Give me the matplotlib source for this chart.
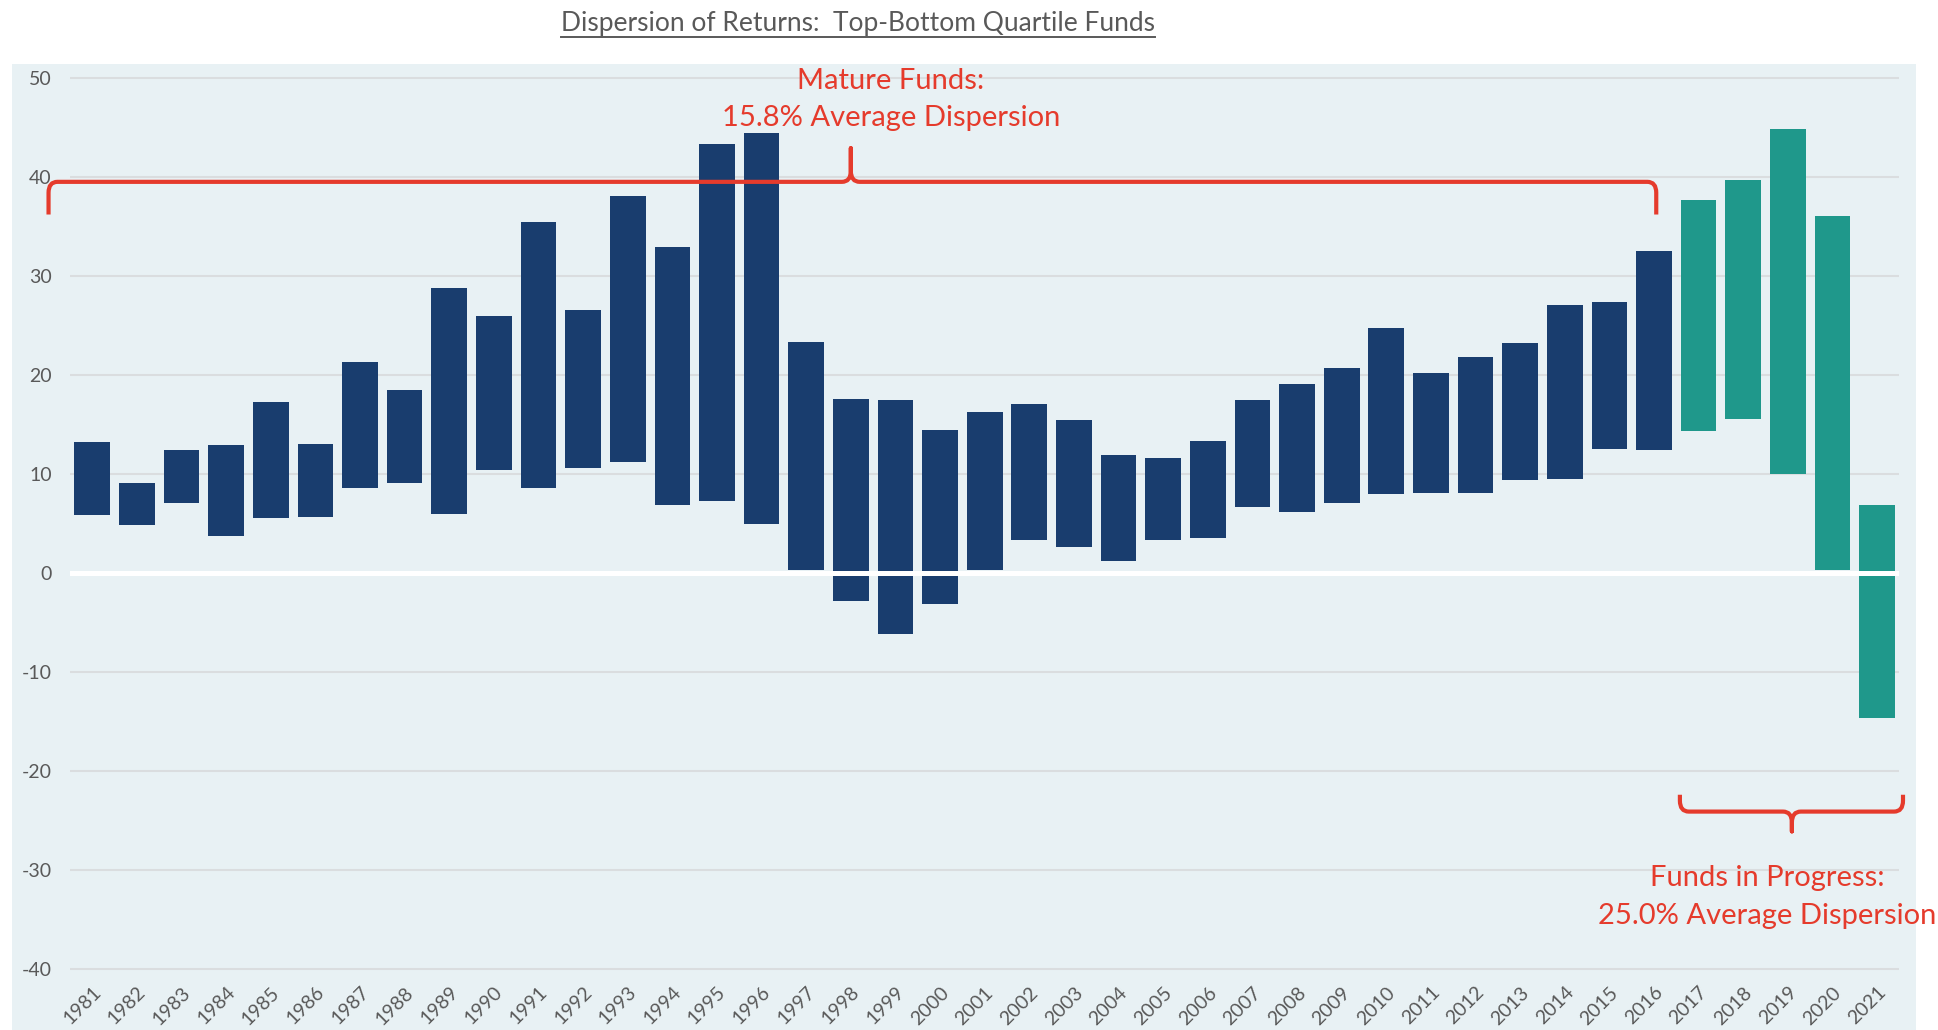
import numpy as np
import matplotlib.pyplot as plt
from matplotlib.path import Path
from matplotlib.patches import PathPatch, Rectangle
from matplotlib.lines import Line2D

plt.rcParams['font.family'] = ['Lato', 'DejaVu Sans']

# top / bottom quartile returns by vintage year
years = list(range(1981, 2022))
top_q = [13.2, 9.1, 12.4, 12.9, 17.3, 13.0, 21.3, 18.5, 28.8, 26.0,
         35.4, 26.6, 38.1, 32.9, 43.3, 44.4, 23.3, 17.6, 17.5, 14.4,
         16.3, 17.1, 15.4, 11.9, 11.6, 13.3, 17.5, 19.1, 20.7, 24.7,
         20.2, 21.8, 23.2, 27.1, 27.4, 32.5, 37.7, 39.7, 44.8, 36.0,
         6.9]
bottom_q = [5.9, 4.8, 7.1, 3.7, 5.5, 5.7, 8.6, 9.1, 6.0, 10.4,
            8.6, 10.6, 11.2, 6.9, 7.3, 4.9, 0.3, -2.8, -6.2, -3.1,
            0.3, 3.3, 2.6, 1.2, 3.3, 3.5, 6.7, 6.2, 7.1, 8.0,
            8.1, 8.1, 9.4, 9.5, 12.5, 12.4, 14.3, 15.5, 10.0, 0.3,
            -14.6]
first_in_progress = 2017
yticks = list(range(-40, 60, 10))

navy = '#193D6E'
teal = '#1F988B'
red = '#E53B2C'
grey = '#595959'
bg = '#E8F1F4'

fig = plt.figure(figsize=(19.38, 10.30), dpi=100)
fig.patches.append(Rectangle((0.0064, 0), 0.9822, 0.9379, transform=fig.transFigure,
                             facecolor=bg, edgecolor='none', zorder=-5))

ax = fig.add_axes([0.0361, 0.0544, 0.944, 0.8748])
ax.set_facecolor('none')

x = np.arange(len(years))
colors = [teal if y >= first_in_progress else navy for y in years]
heights = np.array(top_q) - np.array(bottom_q)
ax.bar(x, heights, bottom=bottom_q, width=0.8, color=colors, zorder=3)

ax.axhline(0, color='white', lw=3.6, zorder=4)
for t in yticks:
    if t != 0:
        ax.axhline(t, color='#DADDDF', lw=1.5, zorder=1)

ax.set_xlim(-0.5, 40.5)
ax.set_ylim(-40.5, 50.5)
ax.set_yticks(yticks)
ax.set_yticklabels([str(t) for t in yticks])
ax.set_xticks(x)
ax.set_xticklabels([str(y) for y in years], rotation=45, ha='right', va='top',
                   rotation_mode='anchor')
ax.tick_params(axis='x', length=0, pad=7, labelsize=14, labelcolor=grey)
ax.tick_params(axis='y', length=0, pad=13, labelsize=14, labelcolor=grey)
for s in ax.spines.values():
    s.set_visible(False)


def brace(x0, x1, xt, yh, yend, ytip, rx=0.2, ry=1.1):
    d = 1 if yend < yh else -1  # ends hang below (d=1) or rise above (d=-1)
    verts = [(x0, yend), (x0, yh - d * ry), (x0, yh), (x0 + rx, yh),
             (xt - rx, yh), (xt, yh), (xt, yh + d * ry), (xt, ytip),
             (xt, yh + d * ry), (xt, yh), (xt + rx, yh),
             (x1 - rx, yh), (x1, yh), (x1, yh - d * ry), (x1, yend)]
    codes = [Path.MOVETO, Path.LINETO, Path.CURVE3, Path.CURVE3,
             Path.LINETO, Path.CURVE3, Path.CURVE3, Path.LINETO,
             Path.LINETO, Path.CURVE3, Path.CURVE3,
             Path.LINETO, Path.CURVE3, Path.CURVE3, Path.LINETO]
    p = PathPatch(Path(verts, codes), facecolor='none', edgecolor=red, lw=3,
                  capstyle='butt', joinstyle='round', zorder=5, clip_on=False)
    ax.add_patch(p)


brace(-0.98, 35.05, 17.0, 39.5, 36.2, 42.9)
brace(35.58, 40.58, 38.09, -24.1, -22.4, -26.1)

ax.text(17.9, 49.7, 'Mature Funds:', color=red, fontsize=21, ha='center', va='center')
ax.text(17.9, 45.9, '15.8% Average Dispersion', color=red, fontsize=21,
        ha='center', va='center')
ax.text(37.53, -30.8, 'Funds in Progress:', color=red, fontsize=21,
        ha='center', va='center', clip_on=False)
ax.text(37.53, -34.6, '25.0% Average Dispersion', color=red, fontsize=21,
        ha='center', va='center', clip_on=False)

title = fig.text(0.4427, 0.977, 'Dispersion of Returns:  Top-Bottom Quartile Funds',
                 color=grey, fontsize=19, ha='center', va='center')
fig.canvas.draw()
bb = title.get_window_extent().transformed(fig.transFigure.inverted())
fig.lines.append(Line2D([bb.x0, bb.x1], [bb.y0 - 0.001, bb.y0 - 0.001],
                        transform=fig.transFigure, color=grey, lw=1.4))

fig.savefig('out.png', dpi=100)
